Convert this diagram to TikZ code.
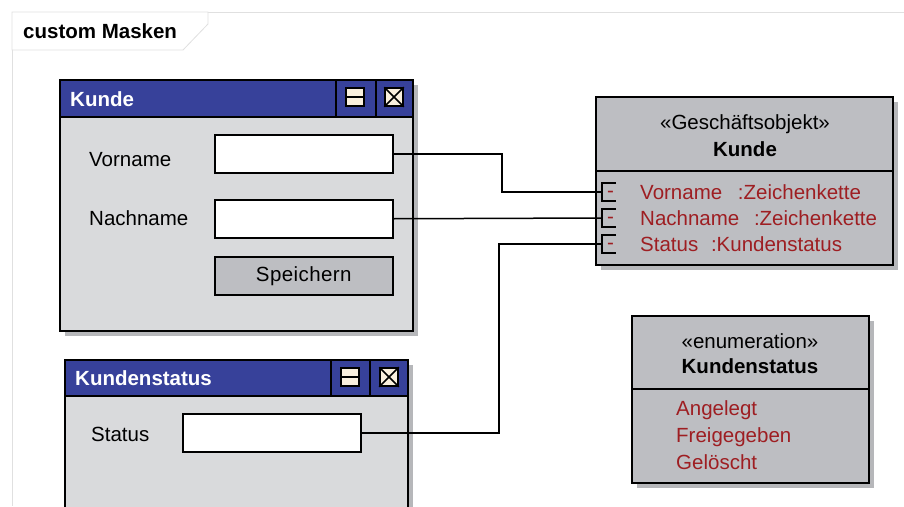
\documentclass[tikz,border=0pt]{standalone}
\usepackage{fontspec}
\setmainfont{Liberation Sans}
\usetikzlibrary{positioning}

\definecolor{fensterblau}{RGB}{55,65,154}
\definecolor{fenstergrau}{RGB}{217,218,220}
\definecolor{knopfgrau}{RGB}{189,190,194}
\definecolor{klassengrau}{RGB}{189,190,194}
\definecolor{schatten}{RGB}{182,183,186}
\definecolor{attributrot}{RGB}{158,30,34}
\definecolor{symbolfarbe}{RGB}{250,240,222}
\definecolor{rahmenfarbe}{RGB}{224,224,224}

\begin{document}
\begin{tikzpicture}[x=1pt, y=-1pt,
  font=\fontsize{20.5}{24}\selectfont,
  linie/.style={draw=black, line width=1.5pt},
  fenster/.style={linie, fill=fenstergrau},
  titelleiste/.style={linie, fill=fensterblau},
  klasse/.style={linie, fill=klassengrau},
  symbol/.style={linie, fill=symbolfarbe, minimum size=18pt, inner sep=0pt},
  feld/.style={linie, fill=white, minimum width=178pt, minimum height=38pt, anchor=north west, inner sep=0pt},
  knopf/.style={feld, fill=knopfgrau},
  beschriftung/.style={anchor=west, inner sep=0pt},
  titel/.style={anchor=west, inner sep=0pt, text=white, font=\fontsize{20.5}{24}\selectfont\bfseries},
  fett/.style={inner sep=0pt, font=\fontsize{20.5}{24}\selectfont\bfseries},
  attribut/.style={anchor=west, inner sep=0pt, text=attributrot},
  port/.style={inner sep=0pt, minimum size=0pt},
  verbinder/.style={draw=black, line width=1.5pt},
  rahmen/.style={draw=rahmenfarbe, line width=0.8pt}]
\useasboundingbox (0,0) rectangle (904,506);
\clip (0,0) rectangle (904,506);

% diagram frame with name tab
\draw[rahmen] (12,506) -- (12,12) -- (904,12);
\draw[rahmen, fill=white] (12,12) -- (208,12) -- (208,24) -- (183,50) -- (12,50) -- cycle;
\node[fett, anchor=west] (diagrammTitel) at (23,31) {custom Masken};

% window Kunde
\fill[schatten] (65,85) rectangle (418,336);
\draw[fenster] (60,80) rectangle (413,331);
\draw[titelleiste] (60,80) rectangle (413,117);
\node[titel] (kundeTitel) at (70,99) {Kunde};
\draw[linie] (336,80) -- (336,117) (376,80) -- (376,117);
\node[symbol] (kundeMin) at (355,97) {};
\node[symbol] (kundeZu) at (394,97) {};
\draw[linie] (kundeMin.west) -- (kundeMin.east);
\draw[linie] (kundeZu.north west) -- (kundeZu.south east)
             (kundeZu.south west) -- (kundeZu.north east);

\node[beschriftung] (vornameLabel) at (89,160) {Vorname};
\node[beschriftung] (nachnameLabel) at (89,218) {Nachname};
\node[feld] (vornameFeld) at (214,134) {};
\node[feld] (nachnameFeld) at (214,199) {};
\node[knopf] (speichernKnopf) at (214,256) {\addfontfeature{LetterSpace=2}Speichern};

% window Kundenstatus
\fill[schatten] (70,365) rectangle (413,520);
\draw[fenster] (65,360) rectangle (408,520);
\draw[titelleiste] (65,360) rectangle (408,396);
\node[titel] (statusTitel) at (75,378) {Kundenstatus};
\draw[linie] (331,360) -- (331,396) (370,360) -- (370,396);
\node[symbol] (statusMin) at (350,377) {};
\node[symbol] (statusZu) at (389,377) {};
\draw[linie] (statusMin.west) -- (statusMin.east);
\draw[linie] (statusZu.north west) -- (statusZu.south east)
             (statusZu.south west) -- (statusZu.north east);

\node[beschriftung] (statusLabel) at (91,434) {Status};
\node[feld] (statusFeld) at (182,413) {};

% class Kunde
\fill[schatten] (601,102) rectangle (898,270);
\draw[klasse] (596,97) rectangle (893,265);
\draw[linie] (596,171) -- (893,171);
\node[inner sep=0pt] (kundeStereotyp) at (745,124) {«Geschäftsobjekt»};
\node[fett] (kundeKlasse) at (745,149) {Kunde};
\foreach \y/\name/\attr in {192/Vorname/{Vorname\hspace{10pt} :Zeichenkette},
                            218/Nachname/{Nachname\hspace{9pt} :Zeichenkette},
                            244/Status/{Status\hspace{7pt} :Kundenstatus}} {
  \node[port] (port\name) at (602,\y) {};
  \draw[linie] (port\name.center) ++(14,-9) -- ++(-14,0) -- ++(0,18) -- ++(14,0);
  \node[attribut] at (607,\y+2) {-};
  \node[attribut] (attr\name) at (640,\y) {\attr};
}

% enumeration Kundenstatus
\fill[schatten] (637,321) rectangle (874,488);
\draw[klasse] (632,316) rectangle (869,483);
\draw[linie] (632,389) -- (869,389);
\node[inner sep=0pt] (enumStereotyp) at (750,341) {«enumeration»};
\node[fett] (enumKlasse) at (750,366) {Kundenstatus};
\foreach \y/\wert in {410/Angelegt, 437/Freigegeben, 462/Gelöscht}
  \node[attribut] (wert\wert) at (676,\y) {\wert};

% mapping of the input fields to the attributes
\path (portVorname) ++(-100,0) coordinate (knickVorname);
\path (portStatus) ++(-103,0) coordinate (knickStatus);
\draw[verbinder] (vornameFeld.east) -| (knickVorname) -- (portVorname);
\draw[verbinder] (nachnameFeld.east) -- (portNachname);
\draw[verbinder] (statusFeld.east) -| (knickStatus) -- (portStatus);
\end{tikzpicture}
\end{document}
